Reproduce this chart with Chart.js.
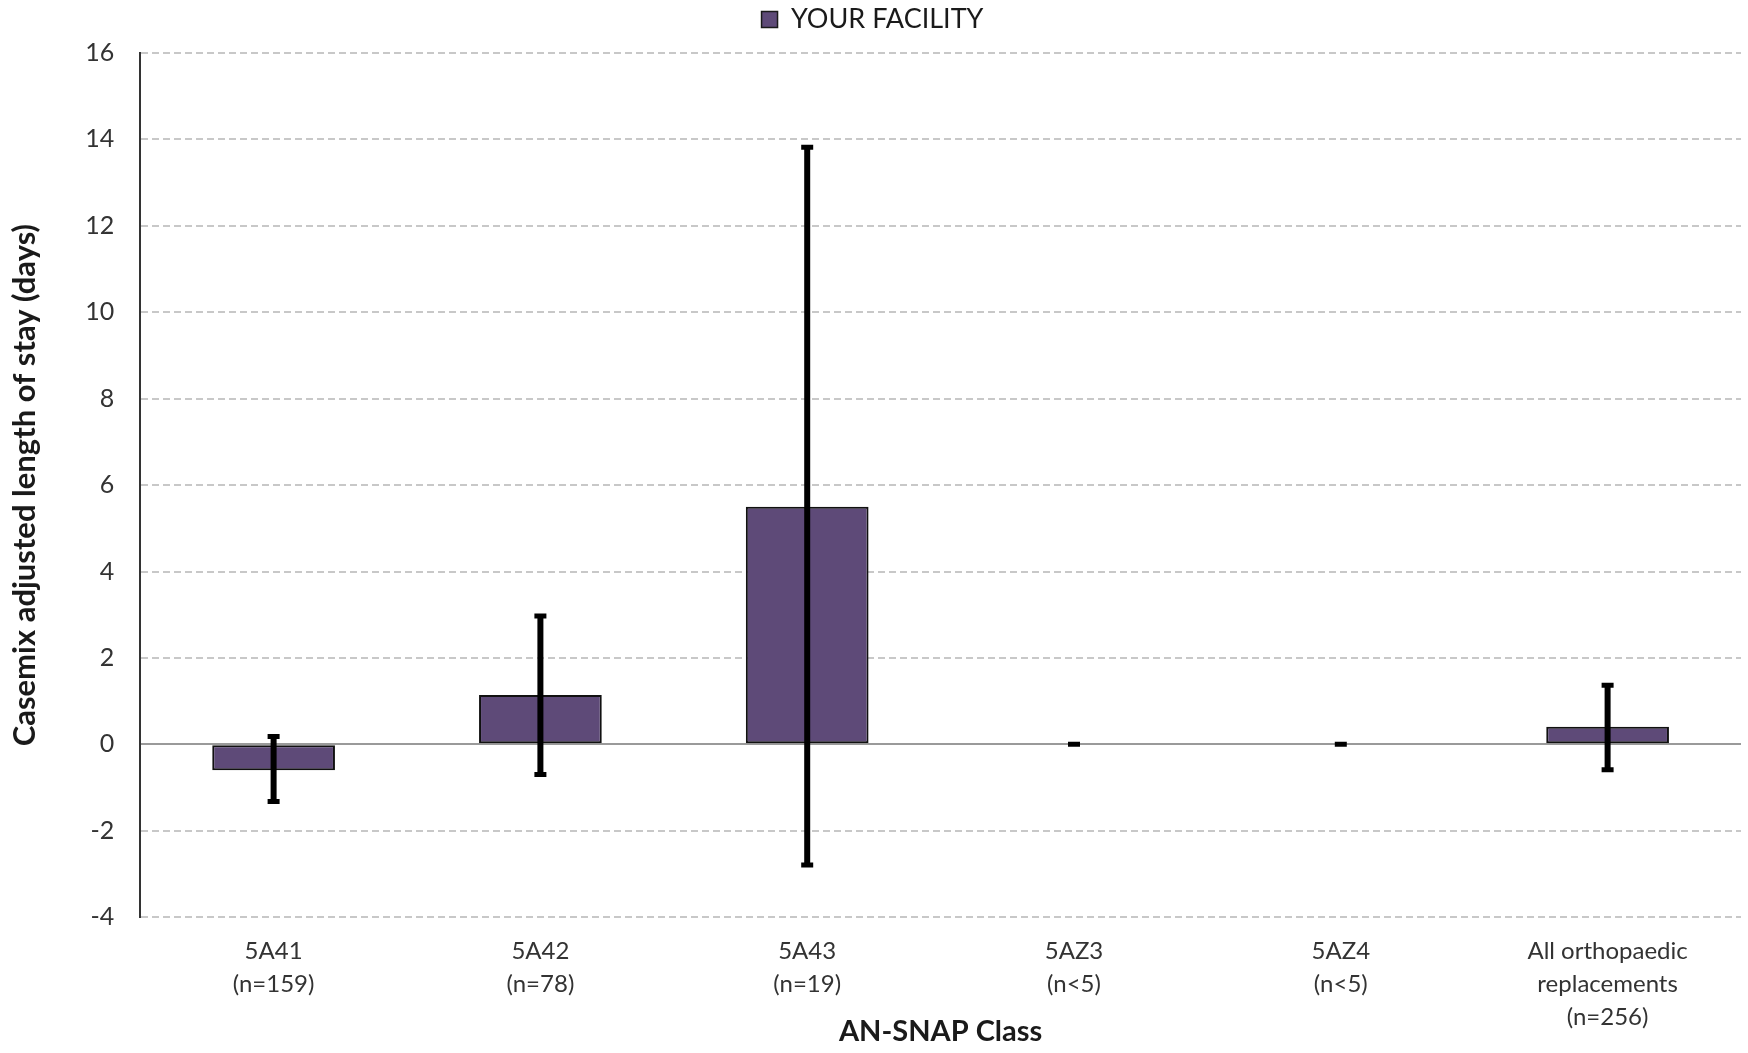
<!DOCTYPE html>
<html>
<head>
<meta charset="utf-8">
<script src="https://cdn.jsdelivr.net/npm/chart.js@4"></script>
<style>
    html, body { margin: 0; padding: 0; background: #ffffff; }
    #wrap { width: 1748px; height: 1053px; }
</style>
</head>
<body>
<div id="wrap"><canvas id="losChart" width="1748" height="1053"></canvas></div>
<script>
// AN-SNAP classes (x axis labels, one line per array entry)
const classLabels = [
    ['5A41', '(n=159)'],
    ['5A42', '(n=78)'],
    ['5A43', '(n=19)'],
    ['5AZ3', '(n<5)'],
    ['5AZ4', '(n<5)'],
    ['All orthopaedic', 'replacements', '(n=256)']
];

// Casemix adjusted LOS difference for the facility (days)
const facilityValues = [-0.6, 1.14, 5.5, null, null, 0.41];

// Confidence interval ends
const ciLower = [-1.32, -0.7, -2.79, 0, 0, -0.59];
const ciUpper = [0.18, 2.97, 13.82, 0, 0, 1.37];

// Y axis range
const yMin = -4;
const yMax = 16;
const yStep = 2;

const barColour = '#5e4a78';
const fontFamily = 'Lato, "Open Sans", sans-serif';

// Draws the error bars on top of the bars using the chart's scales
const errorBarPlugin = {
    id: 'errorBars',
    afterDatasetsDraw(chart) {
        const ctx = chart.ctx;
        const x = chart.scales.x;
        const y = chart.scales.y;
        ctx.save();
        ctx.strokeStyle = '#000000';
        ctx.lineCap = 'butt';
        for (let i = 0; i < classLabels.length; i++) {
            const cx = x.getPixelForValue(i);
            const yLo = y.getPixelForValue(ciLower[i]);
            const yHi = y.getPixelForValue(ciUpper[i]);
            const cap = 6;
            ctx.lineWidth = 6;
            ctx.beginPath();
            ctx.moveTo(cx, yHi);
            ctx.lineTo(cx, yLo);
            ctx.stroke();
            ctx.lineWidth = 5;
            ctx.beginPath();
            ctx.moveTo(cx - cap, yHi);
            ctx.lineTo(cx + cap, yHi);
            ctx.moveTo(cx - cap, yLo);
            ctx.lineTo(cx + cap, yLo);
            ctx.stroke();
        }
        ctx.restore();
    }
};

// Adds some space under the legend
const legendGapPlugin = {
    id: 'legendGap',
    beforeInit(chart) {
        const fit = chart.legend.fit;
        chart.legend.fit = function () {
            fit.bind(chart.legend)();
            this.height += 10;
        };
    }
};

new Chart(document.getElementById('losChart').getContext('2d'), {
    type: 'bar',
    data: {
        labels: classLabels,
        datasets: [{
            label: 'YOUR FACILITY',
            data: facilityValues,
            backgroundColor: barColour,
            borderColor: '#111111',
            borderWidth: 2,
            borderSkipped: false,
            categoryPercentage: 0.92,
            barPercentage: 0.5
        }]
    },
    options: {
        responsive: false,
        animation: false,
        devicePixelRatio: 1,
        layout: {
            padding: { left: 4, right: 7, top: 2, bottom: 4 }
        },
        plugins: {
            legend: {
                position: 'top',
                labels: {
                    color: '#1a1a1a',
                    font: { family: fontFamily, size: 27 },
                    boxWidth: 16,
                    boxHeight: 16,
                    padding: 4,
                    generateLabels: () => [{
                        text: 'YOUR FACILITY',
                        fillStyle: barColour,
                        strokeStyle: '#1a1a1a',
                        lineWidth: 1.5,
                        fontColor: '#1a1a1a'
                    }]
                }
            },
            tooltip: { enabled: false }
        },
        scales: {
            x: {
                grid: { display: false },
                border: { display: false },
                ticks: {
                    color: '#333333',
                    font: { family: fontFamily, size: 24, lineHeight: '33px' },
                    maxRotation: 0,
                    autoSkip: false,
                    padding: 10
                },
                title: {
                    display: true,
                    text: 'AN-SNAP Class',
                    color: '#1a1a1a',
                    font: { family: fontFamily, size: 29, weight: 'bold' },
                    padding: { top: -30, bottom: 0 }
                }
            },
            y: {
                min: yMin,
                max: yMax,
                ticks: {
                    stepSize: yStep,
                    color: '#333333',
                    font: { family: fontFamily, size: 25 },
                    padding: 26
                },
                grid: {
                    color: (c) => c.tick && c.tick.value === 0 ? '#9a9a9a' : '#c8c8c8',
                    lineWidth: 2,
                    drawTicks: false
                },
                border: {
                    display: true,
                    color: '#333333',
                    width: 2,
                    dash: (c) => c.tick && c.tick.value === 0 ? [] : [7, 4]
                },
                title: {
                    display: true,
                    text: 'Casemix adjusted length of stay (days)',
                    color: '#1a1a1a',
                    font: { family: fontFamily, size: 31, weight: 'bold' },
                    padding: { top: 2, bottom: 16 }
                }
            }
        }
    },
    plugins: [errorBarPlugin, legendGapPlugin]
});
</script>
</body>
</html>
